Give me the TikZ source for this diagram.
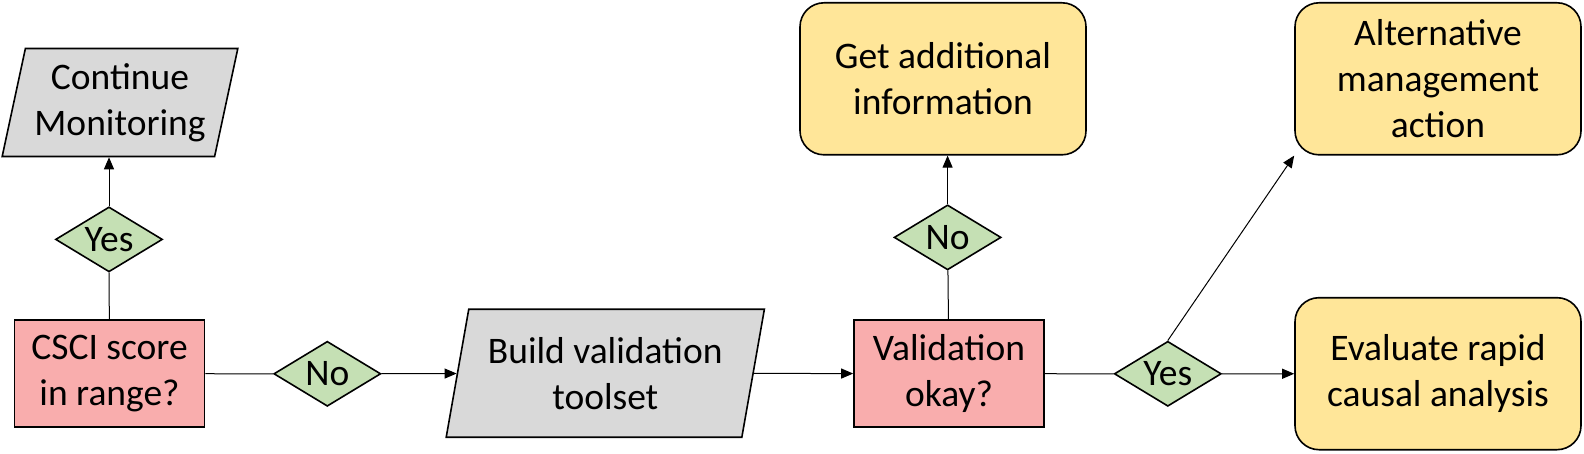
\documentclass[tikz,border=0pt]{standalone}
\usepackage{fontspec}
\setmainfont{Carlito}
\usetikzlibrary{shapes.geometric,arrows.meta}

\definecolor{iogrey}{HTML}{D9D9D9}
\definecolor{askred}{HTML}{F9ADAD}
\definecolor{ansgreen}{HTML}{C5E0B4}
\definecolor{actgold}{HTML}{FFE699}

\tikzset{
  base/.style={draw, line width=1.6pt, align=center,
    font=\fontsize{37.5}{46}\selectfont},
  io/.style={base, trapezium, trapezium left angle=75, trapezium right angle=105,
    trapezium stretches=true, fill=iogrey, inner sep=0pt},
  ask/.style={base, rectangle, fill=askred, minimum width=190pt, minimum height=107pt},
  ans/.style={base, diamond, fill=ansgreen, aspect=1.65, inner sep=0pt,
    minimum width=107pt, minimum height=65pt},
  act/.style={base, rectangle, rounded corners=24pt, fill=actgold,
    minimum width=286pt, minimum height=152pt},
  flow/.style={line width=1pt},
  flowarr/.style={flow, -{Triangle[length=12pt,width=10pt]}}
}

\begin{document}
\begin{tikzpicture}[x=1pt,y=1pt]
    \useasboundingbox (0,0) rectangle (1584,453);
    % left branch
    \node[ask] (csci) at (109.5,79.3) {CSCI score\\in range?};
    \node[ans] (yes1) at (109,213.6) {Yes};
    \node[io, minimum width=236pt, minimum height=108pt] (cont) at (120,350.5) {Continue\\Monitoring};
    \node[ans] (no1) at (327.3,79.2) {No};
    % middle
    \node[io, minimum width=319pt, minimum height=128pt] (build) at (605.3,79.8) {Build validation\\toolset};
    \node[ask] (valid) at (949,79.3) {Validation\\okay?};
    \node[ans] (no2) at (947.6,215.6) {No};
    \node[act] (getinfo) at (943,374.2) {Get additional\\information};
    % right branch
    \node[ans] (yes2) at (1167.8,79.2) {Yes};
    \node[act] (alt) at (1438,374.2) {Alternative\\management\\action};
    \node[act] (eval) at (1438,79.3) {Evaluate rapid\\causal analysis};
    % connectors
    \draw[flow] (csci) -- (yes1);
    \draw[flowarr] (yes1.north) -- (yes1.north |- cont.south);
    \draw[flow] (csci) -- (no1);
    \draw[flowarr] (no1) -- (build);
    \draw[flowarr] (build) -- (valid);
    \draw[flow] (valid) -- (no2);
    \draw[flowarr] (no2.north) -- (no2.north |- getinfo.south);
    \draw[flow] (valid) -- (yes2);
    \draw[flowarr] (yes2) -- (eval);
    \draw[flowarr] (yes2.north) -- (alt.south west);
\end{tikzpicture}
\end{document}
